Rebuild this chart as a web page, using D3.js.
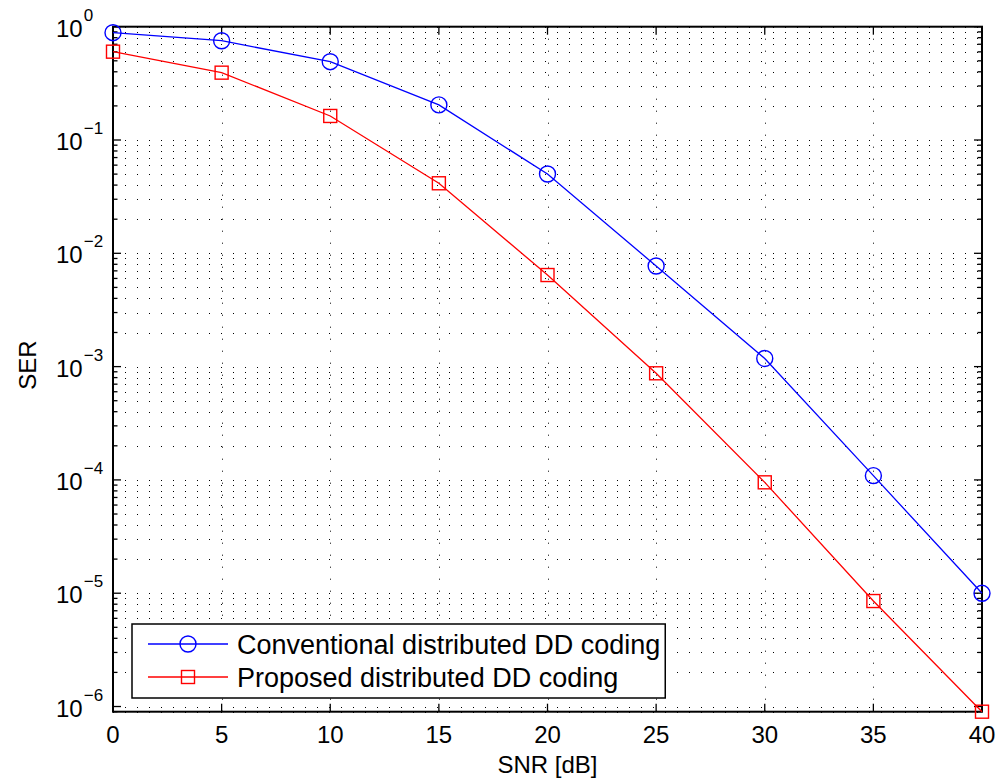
<!DOCTYPE html>
<html>
<head>
<meta charset="utf-8">
<script src="https://cdn.jsdelivr.net/npm/d3@7"></script>
<style>
  body { margin: 0; background: #fff; }
  svg { display: block; font-family: "Liberation Sans", Arial, sans-serif; }
</style>
</head>
<body>
<div id="chart"></div>
<script>
// SER vs SNR data
const snr = [0, 5, 10, 15, 20, 25, 30, 35, 40];
const conventional = [0.885, 0.752, 0.491, 0.204, 0.0501, 0.00773, 0.00118, 1.09e-4, 9.98e-6];
const proposed = [0.602, 0.393, 0.163, 0.0415, 0.00643, 8.73e-4, 9.52e-5, 8.53e-6, 9.0e-7];
const xTicks = [0, 5, 10, 15, 20, 25, 30, 35, 40];
const yExponents = [0, -1, -2, -3, -4, -5, -6];
const seriesNames = ['Conventional distributed DD coding', 'Proposed distributed DD coding'];

const width = 997, height = 781;
const plotL = 113, plotR = 982, plotT = 26.7, plotB = 711.7;

const svg = d3.select('#chart').append('svg')
  .attr('width', width)
  .attr('height', height);

const x = d3.scaleLinear().domain([0, 40]).range([plotL, plotR]);
const y = d3.scaleLog().domain([9.0e-7, 1]).range([plotB, plotT]);

// minor log values inside the range
const minorVals = [];
for (let e = -7; e < 0; e++) {
  for (let m = 2; m <= 9; m++) {
    const v = m * Math.pow(10, e);
    if (v >= y.domain()[0] && v <= 1) minorVals.push(v);
  }
}
const majorVals = yExponents.map(e => Math.pow(10, e));

// dotted grid
const grid = svg.append('g')
  .attr('stroke', '#000')
  .attr('stroke-width', 1)
  .attr('stroke-dasharray', '1,11');

grid.selectAll('.hg')
  .data(majorVals.concat(minorVals))
  .enter().append('line')
  .attr('x1', plotL).attr('x2', plotR)
  .attr('y1', d => Math.round(y(d)) + 0.5)
  .attr('y2', d => Math.round(y(d)) + 0.5);

grid.selectAll('.vg')
  .data(xTicks.slice(1, -1))
  .enter().append('line')
  .attr('y1', plotB).attr('y2', plotT)
  .attr('x1', d => Math.round(x(d)) + 0.5)
  .attr('x2', d => Math.round(x(d)) + 0.5);

// ticks
const ticks = svg.append('g').attr('stroke', '#000').attr('stroke-width', 1.3);

xTicks.forEach(t => {
  ticks.append('line').attr('x1', x(t)).attr('x2', x(t)).attr('y1', plotB).attr('y2', plotB - 8);
  ticks.append('line').attr('x1', x(t)).attr('x2', x(t)).attr('y1', plotT).attr('y2', plotT + 8);
});
majorVals.forEach(v => {
  ticks.append('line').attr('x1', plotL).attr('x2', plotL + 8).attr('y1', y(v)).attr('y2', y(v));
  ticks.append('line').attr('x1', plotR).attr('x2', plotR - 8).attr('y1', y(v)).attr('y2', y(v));
});
minorVals.forEach(v => {
  ticks.append('line').attr('x1', plotL).attr('x2', plotL + 4.5).attr('y1', y(v)).attr('y2', y(v));
  ticks.append('line').attr('x1', plotR).attr('x2', plotR - 4.5).attr('y1', y(v)).attr('y2', y(v));
});

// axes box
svg.append('rect')
  .attr('x', plotL).attr('y', plotT)
  .attr('width', plotR - plotL).attr('height', plotB - plotT)
  .attr('fill', 'none')
  .attr('stroke', '#000')
  .attr('stroke-width', 2);

// x tick labels
svg.selectAll('.xl')
  .data(xTicks)
  .enter().append('text')
  .attr('x', d => x(d))
  .attr('y', 743)
  .attr('text-anchor', 'middle')
  .style('font-size', '24px')
  .text(d => d);

// y tick labels 10^e
yExponents.forEach(e => {
  const yy = y(Math.pow(10, e)) + 10;
  const t = svg.append('text')
    .attr('x', 56)
    .attr('y', yy)
    .style('font-size', '24px');
  t.append('tspan').text('10');
  t.append('tspan')
    .attr('dy', -16)
    .attr('dx', 1)
    .style('font-size', '17px')
    .text(e === 0 ? '0' : '\u2212' + Math.abs(e));
});

// axis labels
svg.append('text')
  .attr('x', (plotL + plotR) / 2)
  .attr('y', 773)
  .attr('text-anchor', 'middle')
  .style('font-size', '24px')
  .text('SNR [dB]');

svg.append('text')
  .attr('transform', 'translate(36,365) rotate(-90)')
  .attr('text-anchor', 'middle')
  .style('font-size', '24px')
  .text('SER');

// series
const line = d3.line()
  .x(d => x(d[0]))
  .y(d => y(d[1]));

const convPts = snr.map((s, i) => [s, conventional[i]]);
const propPts = snr.map((s, i) => [s, proposed[i]]);

svg.append('path')
  .datum(convPts)
  .attr('d', line)
  .attr('fill', 'none')
  .attr('stroke', '#0000ff')
  .attr('stroke-width', 1.3);

svg.append('path')
  .datum(propPts)
  .attr('d', line)
  .attr('fill', 'none')
  .attr('stroke', '#ff0000')
  .attr('stroke-width', 1.3);

svg.selectAll('.cm')
  .data(convPts)
  .enter().append('circle')
  .attr('cx', d => x(d[0]))
  .attr('cy', d => y(d[1]))
  .attr('r', 8)
  .attr('fill', 'none')
  .attr('stroke', '#0000ff')
  .attr('stroke-width', 1.4);

svg.selectAll('.pm')
  .data(propPts)
  .enter().append('rect')
  .attr('x', d => x(d[0]) - 6.5)
  .attr('y', d => y(d[1]) - 6.5)
  .attr('width', 13)
  .attr('height', 13)
  .attr('fill', 'none')
  .attr('stroke', '#ff0000')
  .attr('stroke-width', 1.4);

// legend
const lg = svg.append('g');
const lgBox = lg.append('rect')
  .attr('x', 132).attr('y', 624)
  .attr('height', 74)
  .attr('fill', '#fff')
  .attr('stroke', '#000')
  .attr('stroke-width', 1.5);

const rows = [
  {name: seriesNames[0], color: '#0000ff', shape: 'circle', yy: 644},
  {name: seriesNames[1], color: '#ff0000', shape: 'square', yy: 677}
];
let maxW = 0;
rows.forEach(r => {
  lg.append('line')
    .attr('x1', 148).attr('x2', 228)
    .attr('y1', r.yy).attr('y2', r.yy)
    .attr('stroke', r.color).attr('stroke-width', 1.3);
  if (r.shape === 'circle') {
    lg.append('circle').attr('cx', 188).attr('cy', r.yy).attr('r', 8)
      .attr('fill', 'none').attr('stroke', r.color).attr('stroke-width', 1.4);
  } else {
    lg.append('rect').attr('x', 181.5).attr('y', r.yy - 6.5).attr('width', 13).attr('height', 13)
      .attr('fill', 'none').attr('stroke', r.color).attr('stroke-width', 1.4);
  }
  const t = lg.append('text')
    .attr('x', 237).attr('y', r.yy + 10)
    .style('font-size', '27px')
    .text(r.name);
  maxW = Math.max(maxW, t.node().getComputedTextLength());
});
lgBox.attr('width', 237 + maxW + 5 - 132);
</script>
</body>
</html>
